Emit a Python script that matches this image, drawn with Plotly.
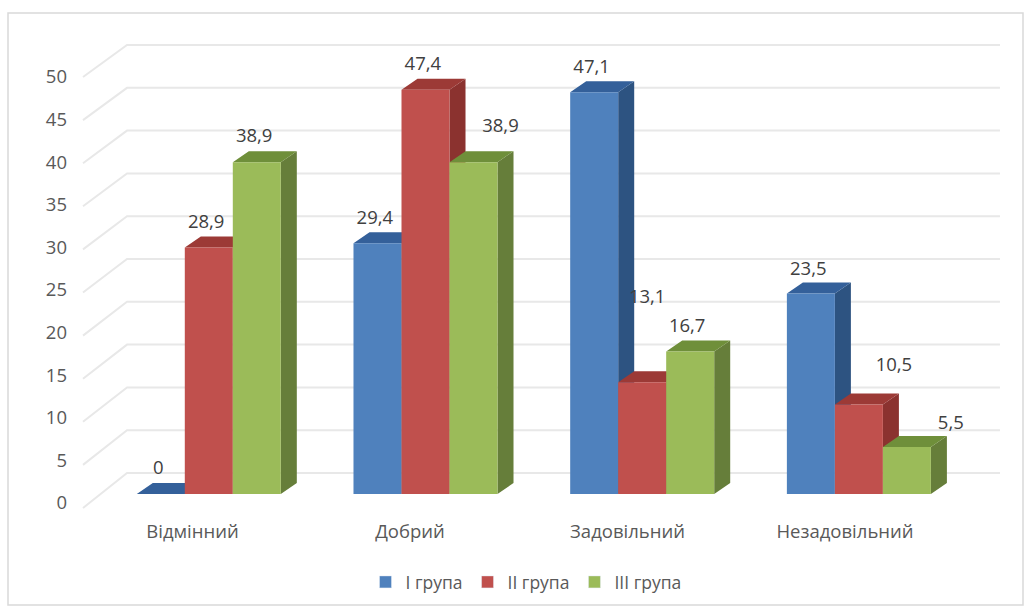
import plotly.graph_objects as go

categories = ["Відмінний", "Добрий", "Задовільний", "Незадовільний"]
series_names = ["I група", "II група", "III група"]
group_1 = [0, 29.4, 47.1, 23.5]
group_2 = [28.9, 47.4, 13.1, 10.5]
group_3 = [38.9, 38.9, 16.7, 5.5]
y_ticks = [0, 5, 10, 15, 20, 25, 30, 35, 40, 45, 50]

front_colors = ["#4f81bd", "#c0504d", "#9bbb59"]
side_colors = ["#2d5381", "#8b322f", "#667e3a"]
top_colors = ["#34609a", "#9c3a36", "#6f8f3a"]
TEXT = "#595959"
GRID = "#e8e8e8"
FONT = "Open Sans"
FONT_SIZE = 18.5

# Oblique projection, in axis units (one x unit = one category step, one y unit = one value)
BAR_START = -0.2561
BAR_STEP = 0.9963
BAR_W = 0.2207
DEPTH_X = 0.0736
DEPTH_Y = 1.29
WALL_FRONT_X = -0.5034
WALL_BACK_X = -0.3011
WALL_RIGHT_X = 3.7126


def wall_back(v):
    return v * 1.0035 + 2.46


def wall_front(v):
    return v * 1.0105 - 1.64


# Value-label nudges per series and category (dx in x units, dy in value units)
label_dx = [[-0.012, -0.012, -0.012, -0.012],
            [-0.012, -0.012, 0.023, 0.161],
            [-0.012, 0.124, -0.014, 0.202]]
label_dy = [[2.85, 2.85, 2.8, 2.75],
            [2.85, 2.85, 9.85, 4.45],
            [2.85, 4.1, 2.85, 2.7]]

all_values = [group_1, group_2, group_3]
fig = go.Figure()

# Legend entries
for name, color in zip(series_names, front_colors):
    fig.add_trace(go.Bar(x=[None], y=[None], name=name, marker_color=color))

# Back wall gridlines and side wall diagonals
grid_x, grid_y = [], []
for v in y_ticks:
    grid_x += [WALL_FRONT_X, WALL_BACK_X, WALL_RIGHT_X, None]
    grid_y += [wall_front(v), wall_back(v), wall_back(v), None]
fig.add_trace(go.Scatter(x=grid_x, y=grid_y, mode="lines", showlegend=False, hoverinfo="skip",
                         line=dict(color=GRID, width=2)))

# Bars as three faces each, painted left to right so nearer faces cover earlier ones
for s, values in enumerate(all_values):
    sx, sy, tx, ty, fx, fy = [], [], [], [], [], []
    for i, v in enumerate(values):
        x0 = BAR_START + BAR_STEP * i + BAR_W * s
        x1 = x0 + BAR_W
        sx += [x1, x1 + DEPTH_X, x1 + DEPTH_X, x1, x1, None]
        sy += [0, DEPTH_Y, v + DEPTH_Y, v, 0, None]
        tx += [x0, x0 + DEPTH_X, x1 + DEPTH_X, x1, x0, None]
        ty += [v, v + DEPTH_Y, v + DEPTH_Y, v, v, None]
        fx += [x0, x1, x1, x0, x0, None]
        fy += [0, 0, v, v, 0, None]
    for px, py, col in ((sx, sy, side_colors[s]), (tx, ty, top_colors[s]), (fx, fy, front_colors[s])):
        fig.add_trace(go.Scatter(x=px, y=py, mode="none", fill="toself", fillcolor=col,
                                 showlegend=False, hoverinfo="skip"))

# Value labels
for s, values in enumerate(all_values):
    lx = [BAR_START + BAR_STEP * i + BAR_W * (s + 0.5) + label_dx[s][i] for i in range(4)]
    ly = [v + label_dy[s][i] for i, v in enumerate(values)]
    txt = [str(v).replace(".", ",") for v in values]
    fig.add_trace(go.Scatter(x=lx, y=ly, text=txt, mode="text", showlegend=False, hoverinfo="skip",
                             textposition="middle center",
                             textfont=dict(family=FONT, size=FONT_SIZE, color="#404040")))

W, H = 1030, 610
L, R, T, B = 68, 20, 20, 92
UNIT_X, UNIT_Y = 217.5, 8.53
x_lo = (L - 192.5) / UNIT_X
x_hi = (W - R - 192.5) / UNIT_X
y_lo = (494 - (H - B)) / UNIT_Y
y_hi = (494 - T) / UNIT_Y

fig.update_layout(
    width=W, height=H, autosize=False,
    margin=dict(l=L, r=R, t=T, b=B, autoexpand=False),
    paper_bgcolor="white", plot_bgcolor="white",
    font=dict(family=FONT, size=FONT_SIZE, color=TEXT),
    xaxis=dict(type="linear", range=[x_lo, x_hi], showgrid=False, zeroline=False, showline=False,
               tickmode="array", tickvals=list(range(4)), ticktext=categories, ticks="",
               tickfont=dict(family=FONT, size=FONT_SIZE, color=TEXT)),
    yaxis=dict(type="linear", range=[y_lo, y_hi], showgrid=False, zeroline=False, showline=False,
               tickmode="array", tickvals=[v * 0.999 - 1.05 for v in y_ticks],
               ticktext=[str(v) for v in y_ticks], ticks="",
               tickfont=dict(family=FONT, size=FONT_SIZE, color=TEXT)),
    legend=dict(orientation="h", xanchor="center", yanchor="middle",
                x=(526 - L) / (W - L - R), y=(H - B - 582) / (H - T - B),
                font=dict(family=FONT, size=17.5, color=TEXT), bgcolor="rgba(0,0,0,0)"),
    shapes=[dict(type="rect", xref="paper", yref="paper", layer="below",
                 x0=(8 - L) / (W - L - R), x1=(1023 - L) / (W - L - R),
                 y0=(H - B - 605) / (H - T - B), y1=(H - B - 13) / (H - T - B),
                 line=dict(color="#d9d9d9", width=1.5), fillcolor="white")],
)

fig.write_html("out.html")
